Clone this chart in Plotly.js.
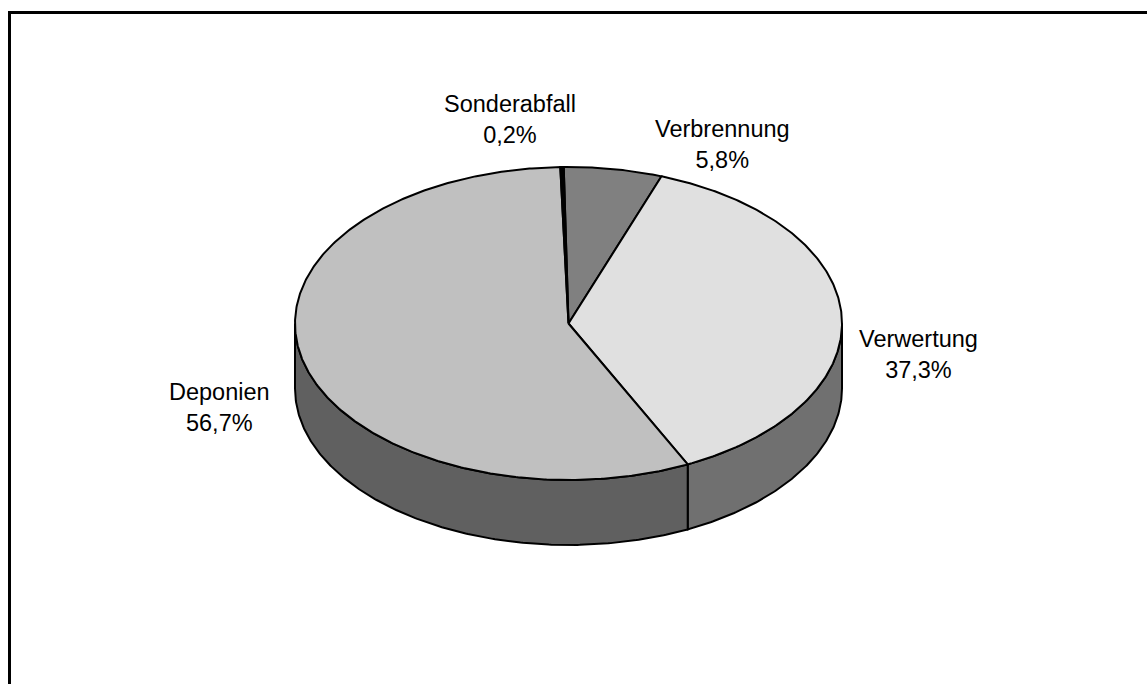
<!DOCTYPE html>
<html>
<head>
<meta charset="utf-8">
<script src="https://cdn.plot.ly/plotly-3.0.1.min.js"></script>
<style>html,body{margin:0;padding:0;background:#fff;}#chart{width:1147px;height:684px;}</style>
</head>
<body>
<div id="chart"></div>
<script>
// ---- data (clockwise from 12 o'clock) ----
const categories = ['Verbrennung', 'Verwertung', 'Deponien', 'Sonderabfall'];
const values = [5.8, 37.3, 56.7, 0.2];

// ---- style ----
const topColors = ['#808080', '#e0e0e0', '#c0c0c0', '#000000'];
const sideColors = ['#404040', '#707070', '#606060', '#000000'];
const geom = {cx: 568.5, cy: 323.5, rx: 273.5, ry: 156.5, depth: 65, rotation: -1};
const labelPos = {
  'Verbrennung': [722, 144],
  'Verwertung': [918, 354],
  'Deponien': [219.5, 407],
  'Sonderabfall': [510, 119]
};

function pt(thetaDeg, drop) {
  const t = (thetaDeg + geom.rotation) * Math.PI / 180;
  return [geom.cx + geom.rx * Math.sin(t), geom.cy - geom.ry * Math.cos(t) + (drop || 0)];
}
function arc(a1, a2, drop) {
  const pts = [];
  const n = Math.max(2, Math.ceil(Math.abs(a2 - a1) / 0.5));
  for (let i = 0; i <= n; i++) pts.push(pt(a1 + (a2 - a1) * i / n, drop));
  return pts;
}

const total = values.reduce((a, b) => a + b, 0);
const slices = [];
let acc = 0;
values.forEach((v, i) => {
  const a1 = acc / total * 360;
  acc += v;
  const a2 = acc / total * 360;
  slices.push({a1, a2, i});
});

const traces = [];
// side faces (front half of the rim)
const frontLo = 90 - geom.rotation, frontHi = 270 - geom.rotation;
slices.forEach(s => {
  const lo = Math.max(s.a1, frontLo), hi = Math.min(s.a2, frontHi);
  if (hi <= lo) return;
  const top = arc(lo, hi, 0);
  const bot = arc(hi, lo, geom.depth);
  const poly = top.concat(bot);
  poly.push(top[0]);
  traces.push({
    type: 'scatter', mode: 'lines', fill: 'toself',
    x: poly.map(p => p[0]), y: poly.map(p => p[1]),
    fillcolor: sideColors[s.i], line: {color: '#000', width: 2},
    hoverinfo: 'skip', showlegend: false
  });
});
// top faces
slices.forEach(s => {
  const c = [geom.cx, geom.cy];
  const poly = [c].concat(arc(s.a1, s.a2, 0));
  poly.push(c);
  traces.push({
    type: 'scatter', mode: 'lines', fill: 'toself',
    x: poly.map(p => p[0]), y: poly.map(p => p[1]),
    fillcolor: topColors[s.i], line: {color: '#000', width: 2},
    hoverinfo: 'skip', showlegend: false
  });
});

const annotations = categories.map((c, i) => ({
  x: labelPos[c][0], y: labelPos[c][1], xref: 'x', yref: 'y',
  text: c + '<br>' + values[i].toFixed(1).replace('.', ',') + '%',
  showarrow: false, xanchor: 'center', yanchor: 'middle', align: 'center',
  font: {family: 'Liberation Sans, Arial, sans-serif', size: 23.5, color: '#000'}
}));

const layout = {
  width: 1147, height: 684, autosize: false,
  margin: {l: 0, r: 0, t: 0, b: 0},
  paper_bgcolor: '#ffffff', plot_bgcolor: '#ffffff',
  xaxis: {range: [0, 1147], visible: false, fixedrange: true},
  yaxis: {range: [684, 0], visible: false, fixedrange: true},
  showlegend: false,
  annotations: annotations,
  shapes: [{
    type: 'rect', xref: 'x', yref: 'y', x0: 9.5, y0: 12.5, x1: 1200, y1: 760,
    line: {color: '#000', width: 3}, fillcolor: 'rgba(0,0,0,0)', layer: 'above'
  }]
};

Plotly.newPlot('chart', traces, layout, {displayModeBar: false, staticPlot: true});
</script>
</body>
</html>
